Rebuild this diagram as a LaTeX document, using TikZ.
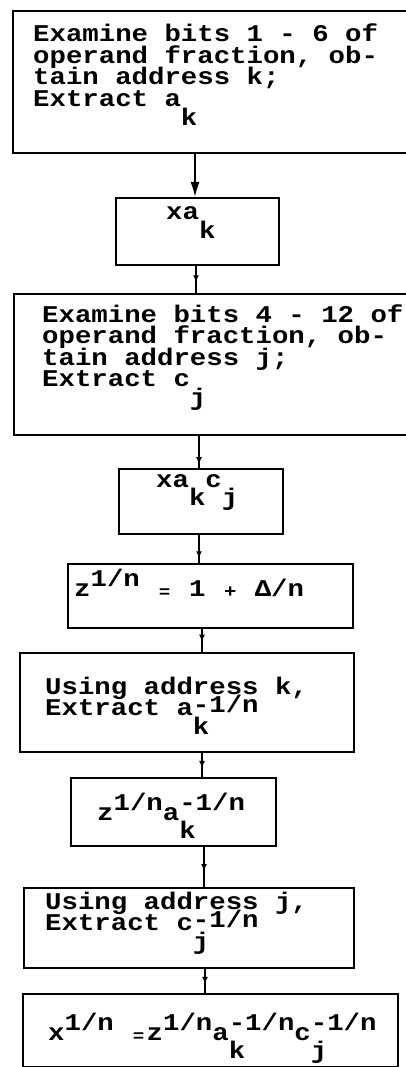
\documentclass[tikz,border=0pt]{standalone}
\usepackage{fontspec}
\newfontfamily\tw[FakeStretch=1.14]{Liberation Mono}
\usetikzlibrary{arrows.meta,decorations.markings}
\newcommand\cellw{0.684em}
\newcommand\sbx[1]{\raisebox{-0.78em}{#1}}
\newcommand\spx[1]{\raisebox{0.38em}{#1}}
\newcommand\sbsp[2]{\rlap{\raisebox{-0.78em}{#1}}\raisebox{0.38em}{#2}}
\newcommand\sbspl[2]{\rlap{\raisebox{-0.78em}{#1}}\raisebox{0.12em}{#2}}
\newcommand\smeq{\makebox[\cellw]{\raisebox{-0.08em}{\scalebox{0.7}{=}}}}
\newcommand\smplus{\makebox[\cellw]{\raisebox{-0.05em}{\scalebox{0.75}{+}}}}
\newcommand\lines[1]{\vtop{\baselineskip=21.5pt\lineskiplimit=-1000pt\lineskip=0pt #1}}
\begin{document}
\begin{tikzpicture}[x=1pt,y=-1pt,
  box/.style={draw, line width=2.2pt, inner sep=0pt, anchor=north west},
  txt/.style={font=\tw\bfseries\fontsize{24}{21}\selectfont, inner sep=0pt},
  conn/.style={line width=1.7pt},
  tiparrow/.style={-{Latex[length=15pt,width=9pt]}},
  midarrow/.style={postaction={decorate}, decoration={markings, mark=at position #1 with {\arrow{Latex[length=7pt,width=6pt]}}}}]
\clip (0,0) rectangle (406,1067);
\fill[white] (0,0) rectangle (406,1067);
% boxes
\node[box, minimum width=400, minimum height=142] (b1) at (12,10) {};
\node[box, minimum width=163, minimum height=67] (b2) at (115,197) {};
\node[box, minimum width=399, minimum height=141] (b3) at (13,293) {};
\node[box, minimum width=164, minimum height=65] (b4) at (118,468) {};
\node[box, minimum width=285, minimum height=64] (b5) at (67,563) {};
\node[box, minimum width=334, minimum height=99] (b6) at (19,652) {};
\node[box, minimum width=205, minimum height=68] (b7) at (70,777) {};
\node[box, minimum width=330, minimum height=80] (b8) at (23,887) {};
\node[box, minimum width=375, minimum height=73] (b9) at (22,993) {};
% texts
\node[txt, anchor=base west] (t1) at (33,42) {\lines{\hbox{Examine bits 1 - 6 of}\hbox{operand fraction, ob-}\hbox{tain address k;}\hbox{Extract a\sbx{k}}}};
\node[txt, anchor=base west] (t2) at (166,220) {xa\sbx{k}};
\node[txt, anchor=base west] (t3) at (42,322) {\lines{\hbox{Examine bits 4 - 12 of}\hbox{operand fraction, ob-}\hbox{tain address j;}\hbox{Extract c\sbx{j}}}};
\node[txt, anchor=base west] (t4) at (156,487) {xa\sbx{k}c\sbx{j}};
\node[txt, anchor=base west] (t5) at (74,596) {z\spx{1/n} \smeq{} 1 \smplus{} Δ/n};
\node[txt, anchor=base west] (t6) at (45,694) {\lines{\hbox{Using address k,}\hbox{Extract a\sbspl{k}{-1/n}}}};
\node[txt, anchor=base west] (t7) at (97,820) {z\spx{1/n}a\sbsp{k}{-1/n}};
\node[txt, anchor=base west] (t8) at (45,909) {\lines{\hbox{Using address j,}\hbox{Extract c\sbspl{j}{-1/n}}}};
\node[txt, anchor=base west] (t9) at (48,1040) {x\spx{1/n} \smeq{}z\spx{1/n}a\sbsp{k}{-1/n}c\sbsp{j}{-1/n}};
% connector columns
\coordinate (c1) at (195,0);
\coordinate (c2) at (196,0);
\coordinate (c3) at (199,0);
\coordinate (c4) at (199,0);
\coordinate (c5) at (202,0);
\coordinate (c6) at (202,0);
\coordinate (c7) at (204,0);
\coordinate (c8) at (205,0);
\draw[conn, tiparrow] (b1.south -| c1) -- (b2.north -| c1);
\draw[conn, midarrow=0.6] (b2.south -| c2) -- (b3.north -| c2);
\draw[conn, midarrow=0.88] (b3.south -| c3) -- (b4.north -| c3);
\draw[conn, midarrow=0.83] (b4.south -| c4) -- (b5.north -| c4);
\draw[conn, midarrow=0.55] (b5.south -| c5) -- (b6.north -| c5);
\draw[conn, midarrow=0.62] (b6.south -| c6) -- (b7.north -| c6);
\draw[conn, midarrow=0.6] (b7.south -| c7) -- (b8.north -| c7);
\draw[conn, midarrow=0.62] (b8.south -| c8) -- (b9.north -| c8);
\end{tikzpicture}
\end{document}
